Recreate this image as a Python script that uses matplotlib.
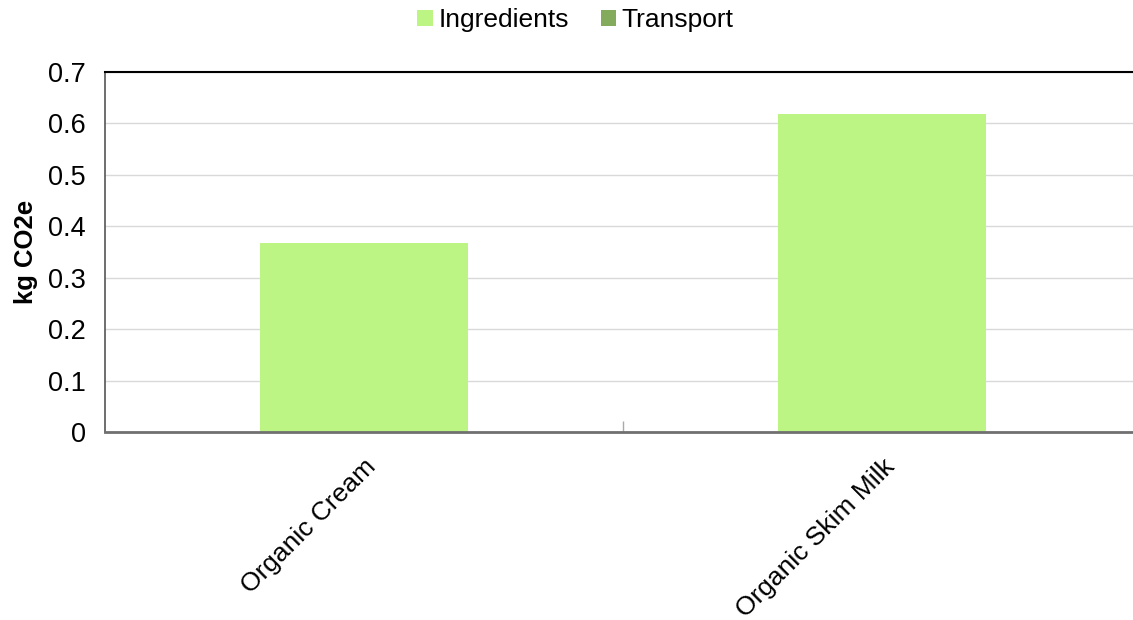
import matplotlib.pyplot as plt
import numpy as np

categories = ["Organic Cream", "Organic Skim Milk"]
ingredients = [0.367, 0.618]
transport = [0.0, 0.0]
y_ticks = [0, 0.1, 0.2, 0.3, 0.4, 0.5, 0.6, 0.7]

plt.rcParams['font.family'] = ['Liberation Sans', 'DejaVu Sans']

fig = plt.figure(figsize=(11.33, 6.2), dpi=100)
ax = fig.add_axes([105 / 1133, 1 - 432 / 620, 1036 / 1133, 360 / 620])

x = np.arange(len(categories))
ax.bar(x, ingredients, width=0.4, color="#bdf584", label="Ingredients", zorder=2)
ax.bar(x, transport, width=0.4, bottom=ingredients, color="#84aa5c", label="Transport", zorder=2)

ax.set_xlim(-0.5, len(categories) - 0.5)
ax.set_ylim(0, 0.7)
ax.set_yticks(y_ticks)
ax.set_yticklabels([f"{v:g}" for v in y_ticks], fontsize=19.5)
ax.yaxis.grid(True, color="#d9d9d9", linewidth=1, zorder=0)
ax.tick_params(axis='y', length=0, pad=14)

ax.set_xticks(x)
ax.set_xticklabels(categories, rotation=45, ha='right', rotation_mode='anchor', fontsize=19)
ax.tick_params(axis='x', which='major', length=0, pad=16)
ax.set_xticks([0.5], minor=True)
ax.tick_params(axis='x', which='minor', direction='in', length=8, color="#aaaaaa", width=1)

ax.set_ylabel("kg CO2e", fontsize=18.5, fontweight='bold', labelpad=7)

ax.spines['right'].set_visible(False)
ax.spines['top'].set_color("#000000")
ax.spines['top'].set_linewidth(1.5)
ax.spines['left'].set_color("#555555")
ax.spines['left'].set_linewidth(1.2)
ax.spines['bottom'].set_color("#707070")
ax.spines['bottom'].set_linewidth(2)

fig.legend(loc='upper center', bbox_to_anchor=(0.508, 1.025), ncol=2, frameon=False,
           fontsize=19, handlelength=0.6, handleheight=0.6, handletextpad=0.2,
           columnspacing=1.2)

fig.savefig("out.png", dpi=100)
